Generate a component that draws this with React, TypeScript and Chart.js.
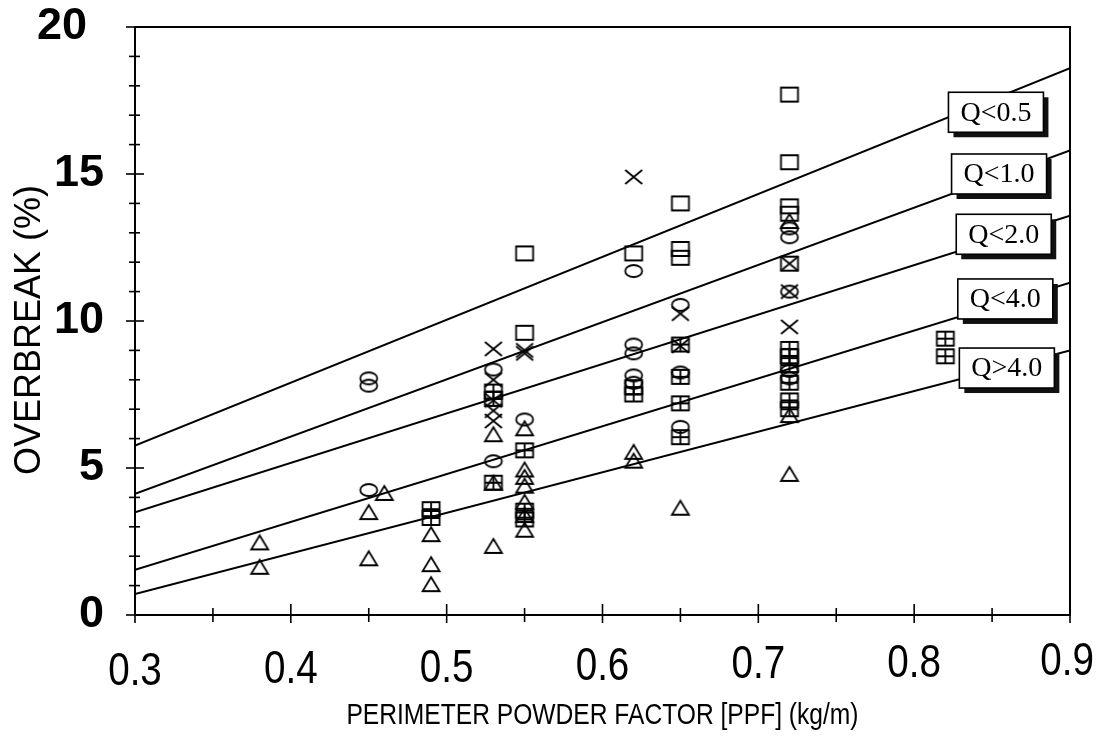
import React, { useEffect, useRef } from 'react';
import { Chart, registerables } from 'chart.js';

Chart.register(...registerables);

// ---------- data ----------
const squareX = [0.55, 0.55, 0.62, 0.65, 0.65, 0.65, 0.72, 0.72, 0.72, 0.72, 0.72];
const squareY = [12.3, 9.6, 12.3, 14.0, 12.45, 12.15, 17.7, 15.4, 13.9, 13.65, 11.95];

const crossX = [0.53, 0.53, 0.53, 0.53, 0.53, 0.55, 0.55, 0.62, 0.65, 0.65, 0.72, 0.72, 0.72];
const crossY = [9.05, 8.0, 7.3, 6.95, 6.6, 9.0, 8.9, 14.9, 10.25, 9.15, 11.95, 11.0, 9.8];

const circleX = [0.45, 0.45, 0.45, 0.53, 0.53, 0.55, 0.62, 0.62, 0.62, 0.62, 0.62, 0.65, 0.65, 0.65, 0.72, 0.72, 0.72, 0.72, 0.72];
const circleY = [8.05, 7.8, 4.25, 8.35, 5.23, 6.65, 11.7, 9.2, 8.9, 8.15, 7.9, 10.55, 8.25, 6.4, 13.15, 12.85, 11.0, 8.3, 8.05];

const gridX = [0.49, 0.49, 0.53, 0.53, 0.53, 0.55, 0.55, 0.55, 0.62, 0.62, 0.65, 0.65, 0.65, 0.65, 0.72, 0.72, 0.72, 0.72, 0.72, 0.72, 0.82, 0.82];
const gridY = [3.6, 3.3, 7.6, 7.35, 4.5, 5.6, 3.55, 3.25, 7.75, 7.5, 9.2, 8.1, 7.2, 6.05, 9.05, 8.8, 8.5, 7.9, 7.3, 7.0, 9.4, 8.8];

const triX = [0.38, 0.38, 0.45, 0.45, 0.46, 0.49, 0.49, 0.49, 0.53, 0.53, 0.53, 0.55, 0.55, 0.55, 0.55, 0.55, 0.55, 0.55, 0.62, 0.62, 0.65, 0.72, 0.72, 0.72];
const triY = [2.47, 1.64, 3.5, 1.93, 4.15, 2.75, 1.73, 1.05, 6.15, 4.5, 2.35, 6.35, 4.95, 4.7, 4.4, 3.85, 3.4, 2.9, 5.55, 5.25, 3.65, 13.4, 6.8, 4.8];

// regression lines (value at x = 0.3 and x = 0.9)
const lineX = [0.3, 0.9];
const lineQ05 = [5.76, 18.6];
const lineQ10 = [4.12, 15.8];
const lineQ20 = [3.49, 13.58];
const lineQ40 = [1.54, 11.3];
const lineQ4p = [0.71, 9.0];

// line label boxes
const labelTexts = ['Q<0.5', 'Q<1.0', 'Q<2.0', 'Q<4.0', 'Q>4.0'];
const labelX = [0.822, 0.824, 0.827, 0.828, 0.829];
const labelY = [17.1, 15.0, 12.95, 10.75, 8.4];

const xTickValues = [0.3, 0.4, 0.5, 0.6, 0.7, 0.8, 0.9];
const xTickLabels = ['0.3', '0.4', '0.5', '0.6', '0.7', '0.8', '0.9'];
const yMajorStep = 5;
const yTopLabel = '20';

const xTitle = 'PERIMETER POWDER FACTOR [PPF] (kg/m)';
const yTitle = 'OVERBREAK (%)';

const yLabelFont = 'bold 45px "Liberation Sans", Arial, sans-serif';

// ---------- helpers ----------
function makeMarker(kind: string): HTMLCanvasElement {
  const c = document.createElement('canvas');
  c.width = 24;
  c.height = 20;
  const g = c.getContext('2d') as CanvasRenderingContext2D;
  g.strokeStyle = '#000';
  g.lineWidth = 1.8;
  const cx = 12, cy = 10, hw = 8.5, hh = 7;
  g.beginPath();
  if (kind === 'square') {
    g.rect(cx - hw, cy - hh, 2 * hw, 2 * hh);
  } else if (kind === 'grid') {
    g.rect(cx - hw, cy - hh, 2 * hw, 2 * hh);
    g.moveTo(cx, cy - hh); g.lineTo(cx, cy + hh);
    g.moveTo(cx - hw, cy); g.lineTo(cx + hw, cy);
  } else if (kind === 'circle') {
    g.ellipse(cx, cy, 8.5, 6, 0, 0, Math.PI * 2);
  } else if (kind === 'cross') {
    g.moveTo(cx - hw, cy - hh); g.lineTo(cx + hw, cy + hh);
    g.moveTo(cx + hw, cy - hh); g.lineTo(cx - hw, cy + hh);
  } else {
    g.moveTo(cx, cy - hh); g.lineTo(cx + hw, cy + hh); g.lineTo(cx - hw, cy + hh); g.closePath();
  }
  g.stroke();
  return c;
}

const zip = (xs: number[], ys: number[]) => xs.map((x, i) => ({ x, y: ys[i] }));

function narrowText(ctx: CanvasRenderingContext2D, text: string, x: number, y: number, sx: number) {
  ctx.save();
  ctx.translate(x, y);
  ctx.scale(sx, 1);
  ctx.fillText(text, 0, 0);
  ctx.restore();
}

const decorPlugin = {
  id: 'decor',
  afterDatasetsDraw(chart: any) {
    const { ctx, chartArea: a, scales } = chart;
    const xs = scales.x, ys = scales.y;
    ctx.save();
    ctx.strokeStyle = '#000';
    ctx.fillStyle = '#000';
    // frame
    ctx.lineWidth = 2;
    ctx.strokeRect(a.left, a.top, a.right - a.left, a.bottom - a.top);
    // y ticks
    ctx.lineWidth = 1.6;
    for (let v = 0; v <= 20; v++) {
      const py = ys.getPixelForValue(v);
      const major = v % yMajorStep === 0;
      ctx.beginPath();
      ctx.moveTo(a.left - (major ? 9 : 6), py);
      ctx.lineTo(a.left + (major ? 9 : 5), py);
      ctx.stroke();
    }
    // x ticks
    for (let k = 0; k <= 12; k++) {
      const v = 0.3 + k * 0.05;
      const px = xs.getPixelForValue(v);
      const major = k % 2 === 0;
      ctx.beginPath();
      ctx.moveTo(px, a.bottom - (major ? 11 : 7));
      ctx.lineTo(px, a.bottom + (major ? 8 : 7));
      ctx.stroke();
    }
    // top y label (set further left, as in the original)
    ctx.font = yLabelFont;
    ctx.textAlign = 'right';
    ctx.textBaseline = 'middle';
    ctx.fillText(yTopLabel, a.left - 48, ys.getPixelForValue(20));
    // label boxes
    ctx.font = '28px "Liberation Serif", "Times New Roman", serif';
    ctx.textAlign = 'center';
    ctx.textBaseline = 'middle';
    labelTexts.forEach((t, i) => {
      const left = xs.getPixelForValue(labelX[i]);
      const cy = ys.getPixelForValue(labelY[i]);
      const w = 95, h = 40;
      const top = cy - h / 2;
      ctx.fillStyle = '#111';
      ctx.fillRect(left + 5, top + 5, w, h);
      ctx.fillStyle = '#fff';
      ctx.fillRect(left, top, w, h);
      ctx.lineWidth = 1.6;
      ctx.strokeRect(left, top, w, h);
      ctx.fillStyle = '#000';
      ctx.fillText(t, left + w / 2, cy + 1);
    });
    // x tick labels (narrow sans, slightly rising to the right as in the scan)
    ctx.font = '46px "Liberation Sans", Arial, sans-serif';
    const sx = 0.84;
    xTickValues.forEach((v, i) => {
      const half = (ctx.measureText(xTickLabels[i]).width * sx) / 2;
      let px = xs.getPixelForValue(v);
      px = Math.min(px, chart.width - half - 8);
      const rise = (px - a.left) * 0.01;
      narrowText(ctx, xTickLabels[i], px, a.bottom + 57 - rise, sx);
    });
    // x title
    ctx.font = '30px "Liberation Sans", Arial, sans-serif';
    narrowText(ctx, xTitle, (a.left + a.right) / 2, a.bottom + 101, 0.82);
    // y title
    ctx.save();
    ctx.font = '36px "Liberation Sans", Arial, sans-serif';
    ctx.translate(a.left - 105, (a.top + a.bottom) / 2 + 9);
    ctx.rotate(-Math.PI / 2);
    ctx.fillText(yTitle, 0, 0);
    ctx.restore();
    ctx.restore();
  },
};

export default function App() {
  const ref = useRef<HTMLCanvasElement | null>(null);
  useEffect(() => {
    if (!ref.current) return;
    const sq = makeMarker('square');
    const cr = makeMarker('cross');
    const ci = makeMarker('circle');
    const gr = makeMarker('grid');
    const tr = makeMarker('triangle');
    const pointDs = (label: string, xs: number[], ys: number[], style: HTMLCanvasElement) => ({
      label,
      data: zip(xs, ys),
      pointStyle: style,
      pointRadius: 8,
      showLine: false,
      borderColor: '#000',
      backgroundColor: 'rgba(0,0,0,0)',
    });
    const lineDs = (label: string, ys: number[]) => ({
      label,
      data: zip(lineX, ys),
      showLine: true,
      pointRadius: 0,
      borderColor: '#000',
      borderWidth: 2,
      backgroundColor: '#000',
    });
    const chart = new Chart(ref.current, {
      type: 'scatter',
      data: {
        datasets: [
          pointDs('square', squareX, squareY, sq),
          pointDs('cross', crossX, crossY, cr),
          pointDs('circle', circleX, circleY, ci),
          pointDs('grid', gridX, gridY, gr),
          pointDs('triangle', triX, triY, tr),
          lineDs('Q<0.5', lineQ05),
          lineDs('Q<1.0', lineQ10),
          lineDs('Q<2.0', lineQ20),
          lineDs('Q<4.0', lineQ40),
          lineDs('Q>4.0', lineQ4p),
        ] as any,
      },
      options: {
        responsive: false,
        animation: false,
        devicePixelRatio: 1,
        layout: { padding: { top: 19, right: 32, left: 0, bottom: 0 } },
        plugins: { legend: { display: false }, tooltip: { enabled: false } },
        scales: {
          x: {
            type: 'linear',
            min: 0.3,
            max: 0.9,
            ticks: { display: false },
            grid: { display: false, drawTicks: false },
            border: { display: false },
            afterFit: (s: any) => {
              s.height = 123;
              s.paddingLeft = 0; s.paddingRight = 0; s.paddingTop = 0; s.paddingBottom = 0;
            },
          },
          y: {
            min: 0,
            max: 20,
            ticks: {
              stepSize: 1,
              autoSkip: false,
              padding: 31,
              color: '#000',
              font: { family: '"Liberation Sans", Arial, sans-serif', size: 45, weight: 'bold' },
              callback: (v: any) => {
                const n = Number(v);
                return n % yMajorStep === 0 && String(n) !== yTopLabel ? String(n) : '';
              },
            },
            grid: { display: false, drawTicks: false },
            border: { display: false },
            title: { display: false },
            afterFit: (s: any) => {
              s.width = 127;
              s.paddingLeft = 0; s.paddingRight = 0; s.paddingTop = 0; s.paddingBottom = 0;
            },
          },
        },
      } as any,
      plugins: [decorPlugin],
    });
    return () => chart.destroy();
  }, []);
  return (
    <div style={{ width: 1094, height: 722 }}>
      <canvas ref={ref} width={1094} height={730} style={{ display: 'block', marginBottom: -8 }} />
    </div>
  );
}
